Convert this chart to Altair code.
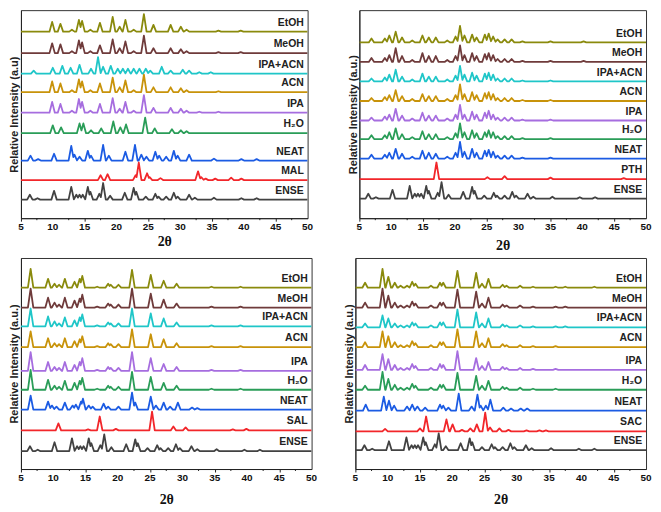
import altair as alt
import pandas as pd

# ---- peak lists (2theta, relative intensity in a.u.) ----
ENSE = [(6.4,5),(7.6,1.5),(10.2,9),(12.9,13),(13.7,5),(14.2,5),(14.7,5),(15.5,13),(15.9,8),(17.3,6),(17.9,17),(19.0,4),(21.3,7),(22.7,12),(23.1,8),(24.6,3),(26.1,6),(26.6,3),(27.8,3),(29.0,7),(29.6,3),(31.4,5),(32.3,2),(35.3,2),(39.6,1.5),(42.0,1.5)]

P1_ETOH = [(9.9,10),(11.2,8),(13.0,2),(14.1,12),(14.6,11),(15.9,2),(17.4,9),(19.4,15),(20.5,5),(21.4,12),(22.7,2),(24.3,18),(25.8,7),(28.5,7),(30.1,5),(31.0,2),(36.0,1),(39.5,1)]
P1_MEOH = [(9.9,10),(11.2,9),(13.0,2),(14.1,13),(14.6,11),(15.9,2),(17.4,8),(19.4,14),(20.5,5),(21.4,12),(22.7,2),(24.3,18),(25.8,5),(28.5,5),(30.1,4),(31.0,2),(36.0,1),(39.5,1)]
P1_IPAACN = [(7.0,3),(10.0,6),(11.5,8),(12.8,6),(14.2,9),(16.0,5),(17.1,17),(17.9,7),(19.1,8),(20.2,5),(21.0,5),(21.8,5),(22.7,5),(23.6,5),(24.6,5),(25.3,3),(27.1,7),(28.5,3),(30.4,4),(31.4,3),(33.0,1.5),(34.8,1.5)]
P1_ACN = [(9.9,11),(11.2,9),(13.0,2),(14.1,13),(14.6,11),(15.9,2),(17.4,9),(19.4,15),(20.5,5),(21.4,12),(22.7,2),(24.3,18),(25.8,5),(28.5,5),(30.1,4),(31.0,2),(36.0,1)]
P1_IPA = [(9.9,11),(11.2,9),(13.0,2),(14.1,14),(14.6,11),(15.9,2),(17.4,9),(19.4,15),(20.5,4),(21.4,11),(22.7,2),(24.3,18),(25.8,5),(28.5,5),(30.1,4),(31.0,2),(33.0,1),(36.0,1)]
P1_H2O = [(10.0,8),(11.3,6),(14.2,10),(14.8,10),(16.0,3),(17.6,5),(19.5,12),(20.6,6),(21.5,9),(24.5,16),(26.0,5),(28.7,4),(30.1,3),(31.0,2)]
P1_NEAT = [(6.5,5),(7.7,1.5),(10.2,7),(12.9,15),(13.4,6),(14.2,4),(15.5,10),(16.0,5),(17.9,16),(18.8,5),(21.4,9),(22.9,16),(23.9,6),(24.7,4),(26.1,9),(26.7,5),(27.8,4),(29.0,10),(29.6,5),(31.4,6),(35.3,2),(39.6,1.5),(42.0,1.5)]
P1_MAL = [(17.5,5),(18.6,6),(23.0,5),(23.5,18),(24.8,7),(25.2,3),(26.9,2),(32.8,9),(33.3,3),(34.0,1.5),(35.5,1.5),(38.0,2.5),(39.6,1.5)]

P2_ETOH = [(6.9,4),(9.0,4),(9.7,7),(10.7,11),(11.7,5),(13.3,2),(14.9,7),(15.9,5),(17.0,5),(18.8,2),(20.1,6),(20.8,17),(21.5,7),(22.7,8),(23.4,5),(24.7,8),(25.3,9),(26.0,6),(26.7,3),(27.8,3),(28.9,3),(30.6,1),(35.0,1),(40.2,1)]
P2_MEOH = [(6.9,4),(9.0,4),(9.7,7),(10.7,14),(11.7,6),(13.3,2),(14.9,9),(15.9,6),(17.0,6),(18.8,2),(20.1,6),(20.8,17),(21.5,7),(22.7,9),(23.4,6),(24.7,8),(25.3,9),(26.0,7),(26.7,3),(27.8,3),(28.9,3),(30.6,1),(35.0,1),(40.2,1)]
P2_IPAACN = [(6.9,3),(9.0,4),(9.7,7),(10.7,12),(11.7,5),(13.3,2),(14.9,8),(15.9,5),(17.0,5),(18.8,2),(20.1,6),(20.8,16),(21.5,7),(22.7,9),(23.4,6),(24.7,8),(25.3,9),(26.0,7),(26.7,3),(27.8,3),(28.9,3),(30.6,1),(35.0,1)]
P2_ACN = [(6.9,3),(9.0,4),(9.7,6),(10.7,11),(11.7,5),(13.3,2),(14.9,7),(15.9,5),(17.0,5),(18.8,2),(20.1,6),(20.8,17),(21.5,7),(22.7,9),(23.4,6),(24.7,8),(25.3,9),(26.0,7),(26.7,3),(27.8,3),(28.9,3),(30.6,1),(35.0,1)]
P2_IPA = [(6.9,3),(9.0,4),(9.7,6),(10.7,12),(11.7,5),(13.3,2),(14.9,8),(15.9,5),(17.0,5),(18.8,2),(20.1,6),(20.8,16),(21.5,6),(22.7,9),(23.4,6),(24.7,8),(25.3,10),(26.0,6),(26.7,3),(27.8,3),(28.9,3),(30.6,1),(35.0,1)]
P2_H2O = [(6.9,4),(9.0,4),(9.7,7),(10.7,11),(11.7,5),(13.3,2),(14.9,8),(15.9,5),(17.0,5),(18.8,2),(20.1,6),(20.8,16),(21.5,7),(22.7,9),(23.4,6),(24.7,7),(25.3,9),(26.0,7),(26.7,3),(27.8,3),(28.9,3),(30.6,1),(35.0,1)]
P2_NEAT = [(6.9,4),(9.0,4),(9.7,6),(10.7,10),(11.7,5),(13.3,2),(14.9,8),(15.9,6),(17.0,5),(18.8,2),(20.1,6),(20.8,17),(21.5,7),(22.7,10),(23.4,6),(24.7,8),(25.3,9),(26.0,7),(26.7,3),(27.8,3),(28.9,3),(30.6,1),(35.0,1)]
P2_PTH = [(17.1,17),(25.1,2),(27.8,3),(35.0,1.5),(46.5,1)]

P3_ETOH = [(6.5,19),(9.2,9),(10.2,4),(10.9,3),(11.8,9),(13.3,6),(14.1,9),(14.5,12),(16.8,1),(18.5,4),(18.9,3),(20.1,3),(22.2,18),(25.1,13),(27.1,7),(29.1,4),(34.5,1),(39.0,1)]
P3_MEOH = [(6.5,19),(9.2,10),(10.2,5),(10.9,3),(11.8,10),(13.3,7),(14.1,9),(14.5,13),(16.8,1),(18.5,4),(18.9,3),(20.1,3),(22.2,19),(25.1,14),(27.1,8),(29.1,4),(34.5,1),(39.0,1)]
P3_IPAACN = [(6.5,18),(9.2,10),(10.2,5),(10.9,3),(11.8,9),(13.3,6),(14.1,9),(14.5,12),(16.8,1),(18.5,4),(18.9,3),(20.1,3),(22.2,18),(25.1,13),(27.1,8),(29.1,4),(34.5,1),(39.0,1)]
P3_ACN = [(6.5,16),(9.2,9),(10.2,4),(10.9,3),(11.8,9),(13.3,6),(14.1,8),(14.5,11),(16.8,1),(18.5,4),(18.9,3),(20.1,3),(22.2,18),(25.1,13),(27.1,8),(29.1,4),(34.5,1),(39.0,1)]
P3_IPA = [(6.5,19),(9.2,9),(10.2,4),(10.9,3),(11.8,9),(13.3,6),(14.1,9),(14.5,13),(16.8,1),(18.5,4),(18.9,3),(20.1,3),(22.2,19),(25.1,13),(27.1,7),(29.1,4),(34.5,1),(39.0,1)]
P3_H2O = [(6.5,20),(9.2,10),(10.2,4),(10.9,3),(11.8,9),(13.3,7),(14.1,9),(14.5,12),(16.8,1),(18.5,4),(18.9,3),(20.1,3),(22.2,18),(25.1,13),(27.1,7),(29.1,4),(34.5,1),(39.0,1)]
P3_NEAT = [(6.5,14),(9.2,8),(9.8,4),(10.5,3),(11.8,7),(13.0,4),(13.5,5),(14.3,8),(14.6,11),(15.5,4),(16.1,3),(17.8,6),(18.5,3),(20.1,3),(22.2,17),(22.7,7),(25.1,13),(25.9,4),(27.1,7),(28.1,3),(29.3,7),(31.5,2),(32.3,1.5)]
P3_SAL = [(10.8,7),(15.4,1),(17.2,14),(19.7,1.5),(25.3,19),(28.6,4),(30.5,3),(37.8,1),(39.9,1.5)]

P4_ETOH = [(6.5,5),(9.2,19),(10.1,11),(11.1,5),(12.0,2),(13.0,2),(13.8,6),(14.3,4),(16.7,2),(18.1,5),(18.6,5),(20.8,17),(23.7,15),(24.6,4),(25.6,9),(27.8,3),(28.4,2),(30.5,2),(32.5,1),(36.0,1),(37.5,1),(42.0,1)]
P4_MEOH = [(6.5,5),(9.2,19),(10.1,12),(11.1,5),(12.0,2),(13.0,2),(13.8,6),(14.3,4),(16.7,2),(18.1,5),(18.6,5),(20.8,18),(23.7,16),(24.6,4),(25.6,10),(27.8,3),(28.4,2),(30.5,2),(32.5,1),(36.0,1),(37.5,1)]
P4_IPAACN = [(6.5,4),(9.2,12),(10.1,9),(11.1,4),(12.0,2),(13.0,2),(13.8,5),(14.3,4),(16.7,2),(18.1,5),(18.6,5),(20.8,18),(23.7,15),(24.6,4),(25.6,9),(27.8,3),(28.4,2),(30.5,2),(32.5,1),(36.0,1),(37.5,1)]
P4_ACN = [(6.5,5),(9.2,16),(10.1,11),(11.1,5),(12.0,2),(13.0,2),(13.8,6),(14.3,4),(16.7,2),(18.1,5),(18.6,5),(20.8,18),(23.7,16),(24.6,4),(25.6,9),(27.8,3),(28.4,2),(30.5,2),(32.5,1),(36.0,1)]
P4_IPA = [(6.5,5),(9.2,16),(10.1,11),(11.1,5),(12.0,2),(13.0,2),(13.8,6),(14.3,4),(16.7,2),(18.1,6),(18.6,5),(20.8,19),(23.7,12),(24.6,4),(25.6,8),(27.8,3),(28.4,2),(30.5,2),(32.5,1),(36.0,1)]
P4_H2O = [(6.5,4),(9.2,18),(10.1,11),(11.1,5),(12.0,2),(13.0,2),(13.8,6),(14.3,4),(16.7,2),(18.1,5),(18.6,5),(20.8,17),(23.7,14),(24.6,4),(25.6,9),(27.8,3),(28.4,2),(30.5,2),(32.5,1),(36.0,1)]
P4_NEAT = [(6.6,6),(9.4,14),(10.2,10),(11.0,5),(13.0,4),(13.8,6),(14.6,4),(15.8,3),(18.1,6),(18.6,5),(19.4,3),(21.0,17),(23.0,4),(23.9,16),(24.4,5),(25.2,5),(25.9,11),(27.9,3),(29.1,2),(30.6,2),(31.6,2)]
P4_SAC = [(9.6,2.5),(15.0,3),(15.95,15),(19.1,12),(20.05,7),(21.5,1.5),(22.8,3),(23.8,7),(25.1,19),(25.85,4),(27.3,3),(28.7,1.5),(31.5,1),(33.5,1),(34.5,1)]

SAMPLES = ["EtOH", "MeOH", "IPA+ACN", "ACN", "IPA", "H\u2082O", "NEAT"]
COFORMERS = ["MAL", "PTH", "SAL", "SAC"]

# vertical offset (a.u.) of every trace, listed EtOH ... NEAT, coformer, ENSE
OFFSETS_1 = [191, 169, 148, 129, 108, 87, 59, 39, 19]
OFFSETS_2 = [180, 160, 140, 120, 100, 81, 61, 40, 20]
OFFSETS_3 = [183, 163, 144, 123, 99, 80, 60, 39, 18]
OFFSETS_4 = [183, 163, 143, 123, 100, 80, 59, 38, 19]

MAJOR_TICKS = [5, 10, 15, 20, 25, 30, 35, 40, 45, 50]
MINOR_TICKS = [7.5, 12.5, 17.5, 22.5, 27.5, 32.5, 37.5, 42.5, 47.5]

PANELS = [
    ([P1_ETOH, P1_MEOH, P1_IPAACN, P1_ACN, P1_IPA, P1_H2O, P1_NEAT, P1_MAL, ENSE], "MAL", OFFSETS_1, "Relative Intensity (a.u)"),
    ([P2_ETOH, P2_MEOH, P2_IPAACN, P2_ACN, P2_IPA, P2_H2O, P2_NEAT, P2_PTH, ENSE], "PTH", OFFSETS_2, "Relative Intensity (a.u.)"),
    ([P3_ETOH, P3_MEOH, P3_IPAACN, P3_ACN, P3_IPA, P3_H2O, P3_NEAT, P3_SAL, ENSE], "SAL", OFFSETS_3, "Relative Intensity (a.u.)"),
    ([P4_ETOH, P4_MEOH, P4_IPAACN, P4_ACN, P4_IPA, P4_H2O, P4_NEAT, P4_SAC, ENSE], "SAC", OFFSETS_4, "Relative Intensity (a.u.)"),
]

COLOR_DOMAIN = SAMPLES + COFORMERS + ["ENSE"]
COLOR_RANGE = ["#8a8a0c", "#6f3b3b", "#1fc6c8", "#c8930a", "#a66ddf", "#2a9d58", "#1b5be3",
               "#f2262a", "#f2262a", "#f2262a", "#f2262a", "#424242"]

HALF_W = 0.42
Y_MAX = 213
FONT = "Liberation Sans"


def trace_points(peaks):
    """Outline of triangular peaks (upper envelope) between 5 and 50 deg."""
    peaks = sorted(peaks)
    pts = [(5.0, 0.0)]
    for i, (p, h) in enumerate(peaks):
        if i == 0:
            pts.append((p - HALF_W, 0.0))
        pts.append((p, h))
        if i < len(peaks) - 1:
            q, g = peaks[i + 1]
            if q - p >= 2 * HALF_W:
                pts += [(p + HALF_W, 0.0), (q - HALF_W, 0.0)]
            else:
                xv = (HALF_W * (h - g) + h * p + g * q) / (h + g)
                yv = h * (1 - (xv - p) / HALF_W)
                xv = min(max(xv, p + 0.02), q - 0.02)
                yv = max(0.0, min(yv, 0.8 * min(h, g)))
                pts.append((xv, yv))
        else:
            pts.append((p + HALF_W, 0.0))
    pts.append((50.0, 0.0))
    return pts


def make_panel(spec, width, height, title_pad):
    traces, cof, offsets, ytitle = spec
    names = SAMPLES + [cof, "ENSE"]
    rows, labels = [], []
    for name, peaks, off in zip(names, traces, offsets):
        for k, (x, y) in enumerate(trace_points(peaks)):
            rows.append({"sample": name, "k": k, "x": x, "y": y + off})
        labels.append({"sample": name, "lx": 49.4, "ly": off + 9})
    df = pd.DataFrame(rows)
    ldf = pd.DataFrame(labels)
    mdf = pd.DataFrame({"m": MINOR_TICKS})
    tdf = pd.DataFrame({"t": MAJOR_TICKS, "s": [str(v) for v in MAJOR_TICKS]})

    xscale = alt.Scale(domain=[5, 50], nice=False, zero=False)
    yscale = alt.Scale(domain=[0, Y_MAX], nice=False, zero=True)

    lines = alt.Chart(df).mark_line(strokeWidth=1.8, clip=True, strokeJoin="round").encode(
        x=alt.X("x:Q", scale=xscale, axis=alt.Axis(
            title="2\u03b8", values=MAJOR_TICKS, labels=False,
            grid=False, tickSize=3, tickColor="#222", domainColor="#222",
            titleFont="Liberation Serif", titleFontSize=14,
            titleFontWeight="bold", titleColor="#111", titlePadding=title_pad)),
        y=alt.Y("y:Q", scale=yscale, axis=alt.Axis(
            title=ytitle, labels=False, ticks=False, grid=False, domainColor="#222",
            titleFont=FONT, titleFontSize=11, titleFontWeight="bold", titleColor="#222",
            titlePadding=1)),
        color=alt.Color("sample:N", scale=alt.Scale(domain=COLOR_DOMAIN, range=COLOR_RANGE), legend=None),
        detail="sample:N",
        order="k:Q",
    )
    minor = alt.Chart(mdf).mark_rule(color="#222", strokeWidth=1).encode(
        x=alt.X("m:Q", scale=xscale),
        y=alt.value(height),
        y2=alt.value(height + 2),
    )
    ticklabels = alt.Chart(tdf).mark_text(baseline="top", align="center", font=FONT, fontSize=10,
                                          fontWeight="bold", color="#111").encode(
        x=alt.X("t:Q", scale=xscale),
        y=alt.value(height + 4),
        text=alt.Text("s:N"),
    )
    text = alt.Chart(ldf).mark_text(align="right", baseline="middle", font=FONT, fontSize=10.5,
                                    fontWeight="bold", color="#222").encode(
        x=alt.X("lx:Q", scale=xscale),
        y=alt.Y("ly:Q", scale=yscale),
        text=alt.Text("sample:N"),
    )
    return alt.layer(lines, minor, ticklabels, text).properties(width=width, height=height)


p1 = make_panel(PANELS[0], 288, 209, 13)
p2 = make_panel(PANELS[1], 288, 209, 17)
p3 = make_panel(PANELS[2], 292, 212, 20)
p4 = make_panel(PANELS[3], 292, 212, 20)

chart = alt.vconcat(
    alt.hconcat(p1, p2, spacing=32),
    alt.hconcat(p3, p4, spacing=24),
    spacing=4,
).properties(padding=0).configure_view(stroke="#333", strokeWidth=1)

chart.save("out.html", embed_options={"renderer": "svg", "actions": False})
